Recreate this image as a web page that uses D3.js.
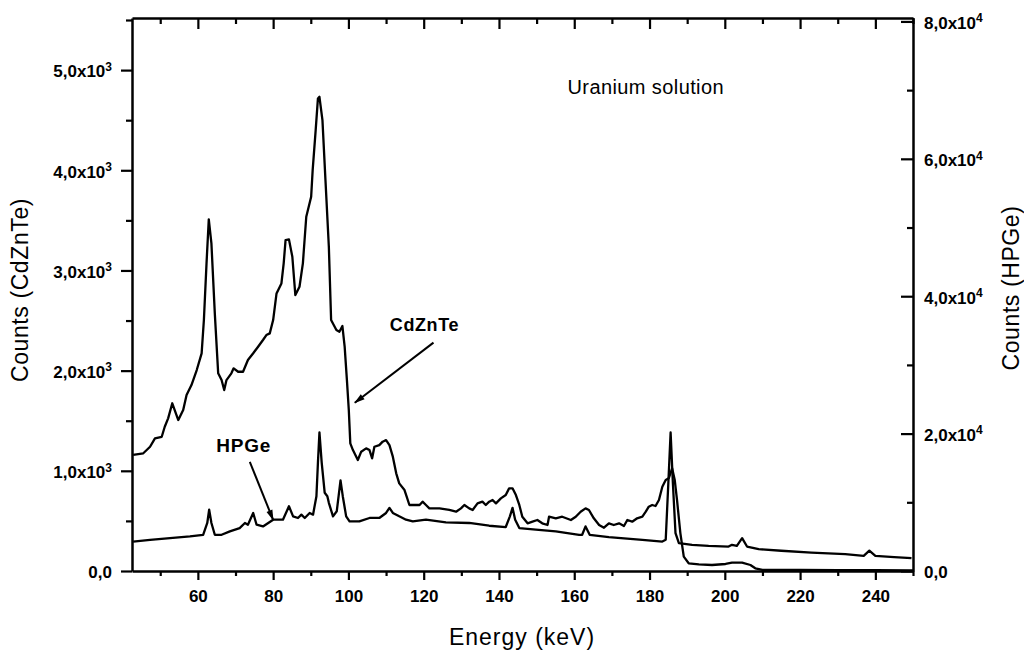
<!DOCTYPE html>
<html>
<head>
<meta charset="utf-8">
<script src="https://cdn.jsdelivr.net/npm/d3@7"></script>
<style>
  html, body { margin: 0; padding: 0; background: #fff; }
  svg { display: block; font-family: "Liberation Sans", Arial, Helvetica, sans-serif; }
</style>
</head>
<body>
<svg id="chart" width="1024" height="655"></svg>
<script>
// ---- Data ----
const cdzEnergy = [42.8,45.5,47.3,48.6,50.4,51.2,52.1,53.2,54.8,56.1,57.0,58.3,59.7,61.0,61.6,62.3,62.9,63.6,64.5,65.4,66.3,67.0,67.6,68.9,69.5,70.7,72.0,73.3,74.7,76.0,77.3,78.2,79.1,80.0,80.9,82.2,82.8,83.3,84.2,85.1,85.9,87.0,87.9,88.8,90.1,90.5,91.3,91.9,92.3,93.1,93.9,94.8,95.4,96.8,97.6,98.4,99.0,99.6,100.1,100.5,101.2,102.5,103.4,104.7,105.6,106.3,106.9,108.2,109.1,110.0,110.9,111.8,112.7,113.5,114.9,115.5,116.2,117.5,118.9,119.7,120.6,121.5,124.2,126.8,128.6,129.9,130.8,132.1,133.0,134.3,135.6,136.5,137.4,138.3,139.2,140.5,141.8,142.7,143.6,144.5,145.4,146.2,147.6,148.9,150.2,151.5,152.9,153.3,155.1,156.8,159.1,160.4,161.7,163.0,163.9,165.2,166.6,167.9,169.2,170.5,171.9,173.2,174.1,175.4,176.7,178.1,179.0,179.8,180.7,181.6,182.5,183.4,184.3,185.1,186.0,186.7,187.3,188.2,189.1,190.4,193.1,196.6,200.2,201.9,204.6,206.8,208.1,210,220,230,240,250];
const cdzCounts = [1158,1175,1240,1324,1340,1440,1524,1674,1507,1607,1757,1856,2006,2173,2505,3071,3510,3270,2572,1973,1906,1806,1906,1973,2023,1989,1989,2106,2173,2239,2306,2355,2372,2505,2771,2871,3071,3303,3310,3137,2754,2837,3071,3536,3736,4002,4401,4717,4733,4501,3902,3237,2505,2405,2388,2445,2239,1906,1607,1274,1207,1108,1191,1224,1207,1125,1240,1257,1291,1307,1257,1141,975,875,808,741,659,659,659,692,659,625,625,609,592,625,659,625,609,675,692,659,692,709,675,725,758,825,825,758,659,542,476,492,509,476,459,542,526,542,509,542,592,625,609,526,459,432,476,459,476,449,509,492,526,542,592,642,659,649,709,841,908,925,1025,908,709,376,143,77,67,60,70,83,83,60,27,12,10,8,8,6];

const hpgeEnergy = [42.8,47.3,52.6,57.9,61.4,62.5,63.0,63.6,64.5,66.3,68.5,71.1,72.5,73.3,74.7,75.6,77.3,80.0,82.6,84.2,85.3,86.6,87.5,88.4,89.7,90.6,91.5,91.9,92.3,92.9,93.7,94.4,94.8,95.9,96.9,97.9,98.5,99.4,100.3,102.9,105.6,108.2,110.0,110.9,111.8,113.5,115.3,117.1,120.6,125.9,132.1,137.4,141.8,142.9,143.6,144.3,145.4,149.8,155.1,161.3,162.1,163.0,164.1,169.2,178.1,183.4,184.3,185.0,185.6,186.2,186.9,187.8,191.3,195.7,201.0,201.9,203.2,204.6,205.9,209.0,215,223,232,236.9,238.4,240,245,249.6];
const hpgeCounts = [4290,4540,4790,5030,5270,6990,8940,6990,5270,5270,5760,6250,6990,6740,8450,6740,6490,7470,7470,9420,7960,7720,8200,7720,8450,8200,10890,15780,20170,15780,11380,10890,9920,7960,8690,13200,10890,7960,7220,7220,7720,7720,8450,9190,8450,7960,7470,7220,7470,7080,6990,6590,6400,7960,9190,7470,6250,6010,5760,5270,5270,6490,5270,4940,4540,4290,4540,12850,20170,12850,5520,4060,3810,3660,3560,3810,3660,4790,3560,3180,2950,2680,2450,2200,2970,2200,2010,1860];

const xMajorTicks = [60,80,100,120,140,160,180,200,220,240];
const xMinorTicks = [50,70,90,110,130,150,170,190,210,230,250];
const leftMajorTicks = [0,1000,2000,3000,4000,5000];
const leftMinorTicks = [500,1500,2500,3500,4500,5500];
const rightMajorTicks = [0,20000,40000,60000,80000];
const rightMinorTicks = [10000,30000,50000,70000];

const xDomain = [42.5, 250];
const leftDomain = [0, 5520];
const rightDomain = [0, 80500];

// ---- Layout ----
const svg = d3.select("#chart");
const L = 132, R = 913, T = 18, B = 571;

const x = d3.scaleLinear().domain(xDomain).range([L, R]);
const yL = d3.scaleLinear().domain(leftDomain).range([B, T]);
const yR = d3.scaleLinear().domain(rightDomain).range([B, T]);

const defs = svg.append("defs");
defs.append("clipPath").attr("id", "plotclip")
  .append("rect").attr("x", L).attr("y", T).attr("width", R - L).attr("height", B - T);
defs.append("marker")
  .attr("id", "arrow").attr("viewBox", "0 0 12 10").attr("refX", 11).attr("refY", 5)
  .attr("markerWidth", 12).attr("markerHeight", 9).attr("markerUnits", "userSpaceOnUse")
  .attr("orient", "auto")
  .append("path").attr("d", "M0,1.5 L12,5 L0,8.5 Z").attr("fill", "#000");

// ---- Curves ----
const lineL = d3.line().x(d => x(d[0])).y(d => yL(d[1]));
const lineR = d3.line().x(d => x(d[0])).y(d => yR(d[1]));
const cdzData = cdzEnergy.map((e, i) => [e, cdzCounts[i]]);
const hpgeData = hpgeEnergy.map((e, i) => [e, hpgeCounts[i]]);

const gPlot = svg.append("g").attr("clip-path", "url(#plotclip)");
gPlot.append("path").datum(hpgeData).attr("d", lineR)
  .attr("fill", "none").attr("stroke", "#000").attr("stroke-width", 2.3).attr("stroke-linejoin", "round");
gPlot.append("path").datum(cdzData).attr("d", lineL)
  .attr("fill", "none").attr("stroke", "#000").attr("stroke-width", 2.3).attr("stroke-linejoin", "round");

// ---- Axes ----
function styleAxis(g) {
  g.select(".domain").attr("stroke", "#000").attr("stroke-width", 2.5);
  g.selectAll(".tick line").attr("stroke", "#000").attr("stroke-width", 2.2);
}
function sciLabel(sel, v, exp) {
  sel.text(null);
  if (v === 0) { sel.append("tspan").text("0,0"); return; }
  const m = (v / Math.pow(10, exp)).toFixed(1).replace(".", ",");
  sel.append("tspan").text(m + "x10");
  sel.append("tspan").attr("dy", "-0.55em").attr("font-size", "12px").text(exp);
}
const labelFont = "17px";

// bottom
const gB = svg.append("g").attr("transform", `translate(0,${B})`)
  .call(d3.axisBottom(x).tickValues(xMajorTicks).tickSize(9).tickPadding(10).tickSizeOuter(0));
gB.selectAll(".tick text").attr("font-size", labelFont).attr("font-weight", "bold").attr("fill", "#000");
styleAxis(gB);
svg.append("g").attr("transform", `translate(0,${B})`)
  .call(d3.axisBottom(x).tickValues(xMinorTicks).tickSize(5).tickFormat("").tickSizeOuter(0))
  .call(styleAxis).select(".domain").remove();

// top (inward)
const gT = svg.append("g").attr("transform", `translate(0,${T})`)
  .call(d3.axisTop(x).tickValues(xMajorTicks).tickSize(-11).tickFormat("").tickSizeOuter(0));
styleAxis(gT);
svg.append("g").attr("transform", `translate(0,${T})`)
  .call(d3.axisTop(x).tickValues(xMinorTicks).tickSize(-6).tickFormat("").tickSizeOuter(0))
  .call(styleAxis).select(".domain").remove();

// left (outward)
const gL = svg.append("g").attr("transform", `translate(${L},0)`)
  .call(d3.axisLeft(yL).tickValues(leftMajorTicks).tickSize(11).tickPadding(9).tickSizeOuter(0));
styleAxis(gL);
gL.selectAll(".tick text").each(function(d) { sciLabel(d3.select(this), d, 3); })
  .attr("font-size", labelFont).attr("font-weight", "bold").attr("fill", "#000").attr("dy", "0.4em");
svg.append("g").attr("transform", `translate(${L},0)`)
  .call(d3.axisLeft(yL).tickValues(leftMinorTicks).tickSize(6).tickFormat("").tickSizeOuter(0))
  .call(styleAxis).select(".domain").remove();

// right (inward ticks)
const gR = svg.append("g").attr("transform", `translate(${R},0)`)
  .call(d3.axisRight(yR).tickValues(rightMajorTicks).tickSize(-12).tickPadding(11).tickSizeOuter(0));
styleAxis(gR);
gR.selectAll(".tick text").each(function(d) { sciLabel(d3.select(this), d, 4); })
  .attr("font-size", labelFont).attr("font-weight", "bold").attr("fill", "#000").attr("dy", "0.4em");
svg.append("g").attr("transform", `translate(${R},0)`)
  .call(d3.axisRight(yR).tickValues(rightMinorTicks).tickSize(-6).tickFormat("").tickSizeOuter(0))
  .call(styleAxis).select(".domain").remove();

// ---- Axis titles ----
svg.append("text").attr("x", 522).attr("y", 645).attr("text-anchor", "middle")
  .attr("font-size", "23px").attr("letter-spacing", "1px").text("Energy (keV)");
svg.append("text").attr("transform", "translate(28,290) rotate(-90)").attr("text-anchor", "middle")
  .attr("font-size", "23px").attr("letter-spacing", "0.6px").text("Counts (CdZnTe)");
svg.append("text").attr("transform", "translate(1019,288) rotate(-90)").attr("text-anchor", "middle")
  .attr("font-size", "23px").attr("letter-spacing", "0.6px").text("Counts (HPGe)");

// ---- Annotations ----
svg.append("text").attr("x", x(179)).attr("y", yL(4760)).attr("text-anchor", "middle")
  .attr("font-size", "20px").attr("letter-spacing", "0.4px").text("Uranium solution");

svg.append("text").attr("x", x(120.2)).attr("y", yL(2400)).attr("text-anchor", "middle")
  .attr("font-size", "18px").attr("font-weight", "bold").attr("letter-spacing", "0.6px").text("CdZnTe");
svg.append("line")
  .attr("x1", x(122.6)).attr("y1", yL(2280)).attr("x2", x(101.7)).attr("y2", yL(1680))
  .attr("stroke", "#000").attr("stroke-width", 2).attr("marker-end", "url(#arrow)");

svg.append("text").attr("x", x(72.2)).attr("y", yL(1188)).attr("text-anchor", "middle")
  .attr("font-size", "19px").attr("font-weight", "bold").attr("letter-spacing", "0.8px").text("HPGe");
svg.append("line")
  .attr("x1", x(73.8)).attr("y1", yL(1090)).attr("x2", x(80.0)).attr("y2", yL(510))
  .attr("stroke", "#000").attr("stroke-width", 2).attr("marker-end", "url(#arrow)");
</script>
</body>
</html>
